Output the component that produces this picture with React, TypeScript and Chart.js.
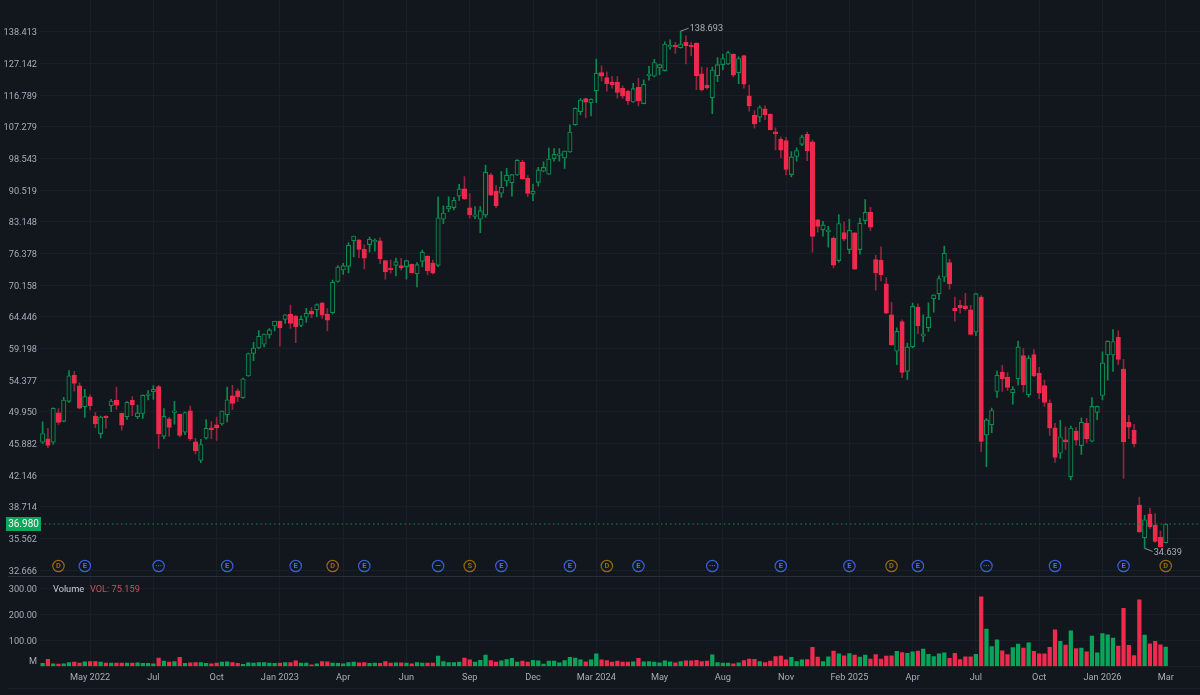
import { useEffect, useRef } from 'react'
import { Chart, registerables } from 'chart.js'

Chart.register(...registerables)

const opens = [
  46.05,46.48,46.05,49.82,48.71,51.39,55.12,53.58,50.65,52.0,
  49.39,47.13,49.35,50.79,51.53,49.78,49.3,51.53,49.3,49.74,
  52.2,52.75,53.45,46.78,49.05,49.88,49.65,47.3,50.1,46.1,
  43.85,46.57,47.85,48.24,48.37,49.56,52.14,52.85,51.9,55.0,
  58.42,59.31,59.9,61.41,62.9,63.73,64.0,64.93,64.58,63.0,
  64.39,65.47,65.71,66.91,64.93,65.17,70.88,73.1,73.82,79.04,
  79.26,77.24,78.25,78.83,79.04,74.94,73.43,74.02,73.95,73.76,
  74.22,72.38,74.81,75.85,74.48,74.02,83.77,86.1,86.41,89.12,
  90.86,86.33,84.4,83.77,84.7,94.32,90.3,89.82,92.8,92.38,
  94.3,97.6,93.56,89.59,92.46,95.25,94.49,98.54,99.4,98.7,
  100.3,107.93,111.78,115.79,114.49,118.2,124.1,122.46,120.9,121,
  119,118,114.7,119.3,114.2,123.1,122.9,125.7,124.8,133,
  133.4,132.7,134.6,133.5,134.3,123.7,119.95,116,123.1,126.8,
  127,130.4,124.1,129.9,116.6,110.65,110.15,112.63,111.05,105.9,
  103.82,103.4,94.4,99.1,102.4,105.2,103.05,83.61,81.4,81.0,
  79.62,74.97,80.8,77.2,80.75,77.2,83.45,85.3,75.18,75.04,
  70.45,64.8,58.78,63.63,55.7,59.47,66.17,61.2,62.6,67.66,
  68.6,71.7,74.57,65.94,66.5,66.4,65.7,61.9,67.95,46.94,
  48.26,52.76,55.57,54.84,52.58,54.58,58.1,52.3,58.25,55.4,
  53.6,51.15,47.87,44.72,46.34,41.97,47.41,45.64,48.43,46.18,
  49.9,52.2,58.2,58.2,61,56.03,48.6,47.58,38.9,35.63,37.96,36.84,35.69,35.17,
]
const highs = [
  48.63,47.81,50.5,50.4,51.95,55.8,55.69,54.0,53.07,52.28,
  49.9,49.39,49.48,51.67,53.4,49.8,51.35,52.05,50.88,52.28,
  52.9,53.6,53.65,50.4,49.22,51.4,49.65,49.95,50.75,46.53,
  46.4,48.92,48.66,49.26,50.1,53.4,53.65,53.15,54.7,58.5,
  60.2,62.13,61.6,62.45,63.75,63.75,64.87,66.55,64.75,64.63,
  65.95,66.07,66.73,66.95,65.89,71.14,73.95,74.4,78.68,80.05,
  79.3,78.18,79.83,79.47,79.69,75,75.07,75.46,75.4,75.07,
  74.25,74.55,77.1,75.9,75.07,88.97,86.8,88.97,88.8,91.96,
  93.9,89.74,86.64,86.64,96.86,94.7,91.7,95.17,96.0,94.5,
  98.3,98.1,94.15,92.04,96.26,97.7,101.4,101.2,101.2,100.6,
  107.9,112.9,115.8,115.9,115.65,128.7,126.4,124.4,122.8,122.8,
  119.8,118.4,120.6,122.2,121.7,126.2,128.6,127.0,134.8,135.5,
  134.6,138.693,137,134.6,134.4,126,125.8,126,129.2,130.4,
  131.5,130.5,129.5,130,120,112.1,113.5,113.5,111.1,107,
  104.4,104.3,100.45,101.45,105,105.8,103.6,83.76,83.3,82.16,
  79.9,84.8,83.2,83.8,80.8,84.04,88.3,86.5,76.05,77.8,
  71.63,67.0,62.6,63.96,60.1,66.9,66.77,64.8,66.95,68.4,
  71.96,77.95,75.2,67.96,67.36,68.67,66.5,68.67,68.25,49.06,
  50.46,55.72,56.6,55.5,53.45,60.4,59.2,58.1,59.05,56.3,
  54.4,51.6,48.43,48.85,48,48.1,47.9,49.15,49.1,51.9,
  50.75,58.68,60.45,62.3,62.08,57.5,49.46,48.3,39.75,37.86,38.6,38.02,36.28,37.0,
]
const lows = [
  45.88,45.37,45.8,48.3,48.62,51.25,52.8,50.36,49.22,50.23,
  47.85,46.6,47.81,50.0,50.3,47.55,48.96,49.44,49.05,49.1,
  51.58,51.67,45.3,46.5,46.8,48.33,46.7,47.0,46.27,44.63,
  43.6,46.44,46.48,46.27,48.2,48.62,50.3,51.35,51.8,54.95,
  57.3,59.15,59.47,60.86,62.07,59.59,63.34,62.51,60.14,62.79,
  63.5,64.33,64.45,64.17,62.07,64.99,70.75,72.25,72.5,75.72,
  75.53,73.3,76.67,76.88,74.35,71.34,72.45,71.93,73.1,71.34,
  72.5,69.86,73.69,72.12,72.32,73.76,82.79,85.5,85.86,88.11,
  88.35,84.0,83.9,80.8,84.16,89.3,86.41,88.8,91.53,89.12,
  94.2,93.2,88.97,88.03,91.53,95.08,94.4,97.86,97.86,96.0,
  100.2,107.8,110.78,109.98,110.48,114.5,121.4,118.1,119,115.9,
  115.8,114,114.6,113.5,114.1,121.6,122.7,123.4,124.6,132.2,
  130.7,132.5,127,129.9,118.6,118.1,118.75,111.14,121.1,125,
  126.8,122.7,120.5,119,111.9,106.9,108.75,109.36,106.4,100.9,
  98.7,94.3,93.8,97.9,102,98,76.66,80.9,80.04,77.7,
  73.5,74.64,79,76.38,73.2,76.24,82.7,81.2,69.25,70.96,
  65,59.7,56.71,54.74,54.5,59.3,61.6,60.3,62,65.28,
  67.48,70.83,69.44,63.7,65.1,65.6,61.4,61.3,44.9,43.13,
  47.24,51.93,52.76,52.9,51,53.68,52.7,51.98,54.9,51.75,
  50.7,46.9,43.63,44.1,45.16,41.61,45.7,44.56,45.96,46.1,
  48.94,51.6,54.38,55.67,56.7,41.79,46.48,45.48,36.15,34.639,36.54,35.2,34.77,35.14,
]
const closes = [
  47.13,45.67,50.46,48.58,51.58,55.03,53.91,50.46,52.05,50.79,
  48.37,49.27,49.18,51.44,50.88,48.2,51.25,50.93,49.82,52.23,
  52.3,53.07,47.08,49.35,47.93,49.93,46.91,49.86,46.48,44.98,
  45.76,47.81,47.64,47.89,50.08,51.6,51.1,52.05,54.6,58.42,
  59.3,61.19,61.57,62.24,63.73,62.57,64.81,63.34,62.79,64.06,
  65.11,64.93,66.61,64.75,63.89,70.75,73.69,73.95,78.1,80.05,
  77.24,75.46,79.4,79.04,75.33,72.71,73.17,74.74,73.56,74.94,
  72.58,74.15,76.67,72.97,72.45,84.08,85.17,86.72,88.11,90.86,
  88.42,84.78,84.47,85.7,95.0,89.35,86.87,91.28,94.24,94.4,
  98.1,93.3,89.74,90.27,95.6,96.26,98.45,99.65,99.5,100.57,
  105.82,112.77,115.29,114.69,115.59,123.9,122.9,120.5,120.2,117.66,
  116.5,115,118.9,115,120.3,123.4,127.5,126.8,134,133.5,
  133,134,133.4,133.1,123.1,118.6,119.2,124.96,126.8,128.9,
  131,123.3,128.9,120.3,113.5,108.17,113,110.85,106.45,105.3,
  100.8,95.7,99,100.7,104.46,100.6,79.97,82.16,82.5,81.2,
  74.04,82.79,79.4,81.3,73.24,82.87,85.37,82,72.5,72.2,
  65.1,59.8,62,55.52,59.47,66.29,62.9,61.6,64.4,68.37,
  71.43,76.45,70.42,65.5,66.05,65.87,61.5,68.6,46.14,48.89,
  50.14,55.1,54.58,53.36,53.08,59.47,53.7,57.74,55,52.53,
  51.24,47.83,44.2,46.73,46.09,47.83,46.3,48.6,46.5,50.69,
  50.7,56.97,60.4,60.33,57.5,46.09,47.96,45.84,36.2,37.4,36.71,35.3,34.81,36.98,
]
const volumes = [
  12,28,10,9,10,15,17,13,18,19,
  19,17,13,13,13,13,13,13,14,12,
  12,10,32,21,17,19,35,12,14,15,
  15,12,10,13,17,18,15,12,8,14,
  13,15,15,13,12,13,15,15,22,13,
  13,6,10,19,18,13,12,10,15,17,
  14,15,12,13,12,19,13,14,14,13,
  10,15,13,13,13,40,19,15,15,17,
  32,26,17,24,44,23,17,22,27,31,
  17,21,17,24,22,9,21,21,14,23,
  35,32,26,18,26,49,26,23,17,21,
  17,17,18,31,18,19,17,14,22,18,
  14,19,22,22,24,19,21,45,15,13,
  13,10,14,23,29,28,19,15,21,38,
  40,26,35,19,26,27,74,36,19,37,
  59,49,41,50,44,36,44,29,46,29,
  40,41,58,54,51,56,59,67,47,38,
  49,53,31,51,27,37,37,47,268,144,
  77,103,60,46,73,86,71,91,58,49,
  49,74,141,97,82,137,69,71,56,117,
  53,127,122,109,79,224,81,42,256,121,87,97,83,75.159,
]

const priceTicks = [138.413,127.142,116.789,107.279,98.543,90.519,83.148,76.378,70.158,64.446,59.198,54.377,49.95,45.882,42.146,38.714,35.562,32.666]
const volumeTicks = [0, 100, 200, 300]
const monthLabels = ['May 2022','Jul','Oct','Jan 2023','Apr','Jun','Sep','Dec','Mar 2024','May','Aug','Nov','Feb 2025','Apr','Jul','Oct','Jan 2026','Mar']

// weekly candle index + marker letter of the dividend/earnings badges
const eventBars = [3,8,22,35,48,55,61,75,81,87,100,107,113,127,140,153,161,166,179,192,205,213]
const eventKinds = ['D','E','···','E','E','D','E','—','S','E','E','D','E','···','E','E','D','E','···','E','E','D']

const lastPrice = 36.98
const lastVolume = 75.159
const highBar = 121
const highPrice = 138.693
const lowBar = 209
const lowPrice = 34.639

const BG = '#12161d'
const GRID = '#1a1e26'
const AXIS_TEXT = '#a6acba'
const UP = '#0aa35a'
const UP_LINE = '#0b8c50'
const UP_FILL = '#11191c'
const UP_WICK = '#0a8a4e'
const DOWN = '#ee2a4d'
const DOWN_WICK = '#962440'
const FONT = 'Roboto, sans-serif'
const FONT_SIZE = 9.2
const AXIS_WIDTH = 40

// 220 slots: the 214 weeks plus the empty space right of the last candle
const slots = Array.from({ length: 220 }, (_, i) => String(i))
const isUp = closes.map((c, i) => c >= opens[i])

// ── Plugin: everything TradingView draws on top of the panes ──────────────
const overlayPlugin = {
  id: 'overlay',
  afterDatasetsDraw(chart: any) {
    const { ctx: c, scales, chartArea, width } = chart
    const x = scales.x
    const y = scales.y
    const vol = scales.vol
    c.save()

    // pane divider + bottom rule
    c.fillStyle = '#2a2e38'
    c.fillRect(8, Math.round(y.bottom), width - 8, 1)
    c.fillStyle = '#1c2028'
    c.fillRect(8, 688, width - 8, 1)

    // last price line
    const lastY = y.getPixelForValue(lastPrice)
    c.strokeStyle = UP_LINE
    c.lineWidth = 1
    c.setLineDash([1.5, 3])
    c.beginPath()
    c.moveTo(chartArea.left, lastY)
    c.lineTo(width, lastY)
    c.stroke()
    c.setLineDash([])

    // last price tag
    c.fillStyle = '#0aa85c'
    c.fillRect(6, lastY - 7, 35, 14)
    c.fillStyle = '#f4f6f8'
    c.font = `10px ${FONT}`
    c.textAlign = 'center'
    c.textBaseline = 'middle'
    c.fillText(lastPrice.toFixed(3), 23.5, lastY + 0.5)

    // high / low callouts
    c.strokeStyle = '#8b909c'
    c.fillStyle = '#a9aeba'
    c.font = `${FONT_SIZE}px ${FONT}`
    c.textAlign = 'left'
    const hx = x.getPixelForValue(highBar)
    const hy = y.getPixelForValue(highPrice)
    c.beginPath()
    c.moveTo(hx, hy)
    c.lineTo(hx + 8, hy - 3)
    c.stroke()
    c.fillText(highPrice.toFixed(3), hx + 9, hy - 3)
    const lx = x.getPixelForValue(lowBar)
    const ly = y.getPixelForValue(lowPrice)
    c.beginPath()
    c.moveTo(lx, ly)
    c.lineTo(lx + 8, ly + 3)
    c.stroke()
    c.fillText(lowPrice.toFixed(3), lx + 9, ly + 4)

    // event badges
    eventBars.forEach((bar, i) => {
      const kind = eventKinds[i]
      const bx = x.getPixelForValue(bar)
      const by = 566
      const orange = kind === 'D' || kind === 'S'
      c.strokeStyle = orange ? '#96690f' : '#3560d8'
      c.fillStyle = orange ? '#96690f' : '#4a72dc'
      c.lineWidth = 1.2
      c.beginPath()
      c.arc(bx, by, 5.7, 0, Math.PI * 2)
      c.stroke()
      c.font = `bold 7.5px ${FONT}`
      c.textAlign = 'center'
      c.fillText(kind, bx, by + 0.5)
    })

    // volume pane legend and unit
    c.font = `${FONT_SIZE}px ${FONT}`
    c.textAlign = 'left'
    c.fillStyle = '#c9cdd6'
    c.fillText('Volume', 53, 589.5)
    c.fillStyle = '#c9525e'
    c.fillText(`VOL: ${lastVolume.toFixed(3)}`, 90, 589.5)
    c.fillStyle = AXIS_TEXT
    c.textAlign = 'right'
    c.fillText('M', 37, vol.getPixelForValue(0) - 4.5)

    c.restore()
  },
}

// scales reserve room for half a tick label; the panes here run edge to edge
const fitLeftAxis = (axis: any) => {
  axis.width = AXIS_WIDTH
  axis.paddingTop = 0
  axis.paddingBottom = 0
}

export default function App() {
  const canvasRef = useRef<HTMLCanvasElement>(null)

  useEffect(() => {
    if (!canvasRef.current) return

    const chart = new Chart(canvasRef.current, {
      type: 'bar',
      plugins: [overlayPlugin],
      data: {
        labels: slots,
        datasets: [
          {
            label: 'Body',
            data: opens.map((o, i) => [o, closes[i]]),
            yAxisID: 'y',
            grouped: false,
            order: 1,
            barThickness: 4.4,
            minBarLength: 1.5,
            borderWidth: 1.1,
            borderSkipped: false,
            backgroundColor: isUp.map(u => (u ? UP_FILL : DOWN)),
            borderColor: isUp.map(u => (u ? UP_LINE : DOWN)),
          },
          {
            label: 'Wick',
            data: lows.map((l, i) => [l, highs[i]]),
            yAxisID: 'y',
            grouped: false,
            order: 2,
            barThickness: 1,
            backgroundColor: isUp.map(u => (u ? UP_WICK : DOWN_WICK)),
          },
          {
            label: 'Volume',
            data: volumes,
            yAxisID: 'vol',
            grouped: false,
            order: 3,
            barThickness: 3.6,
            backgroundColor: isUp.map(u => (u ? UP : DOWN)),
          },
        ] as any,
      },
      options: {
        responsive: true,
        maintainAspectRatio: false,
        animation: false,
        layout: { padding: 0, autoPadding: false },
        plugins: { legend: { display: false }, tooltip: { enabled: false } },
        scales: {
          x: {
            offset: true,
            grid: { color: GRID, offset: false, drawTicks: false },
            border: { display: false },
            afterBuildTicks: (axis: any) => {
              axis.ticks = monthLabels.map((_, k) => ({ value: 9 + 12 * k }))
            },
            afterFit: (axis: any) => {
              axis.height = 28.5
              axis.paddingLeft = 0
              axis.paddingRight = 0
            },
            ticks: {
              autoSkip: false,
              maxRotation: 0,
              padding: 6,
              color: AXIS_TEXT,
              font: { size: FONT_SIZE, family: FONT },
              callback: (_: any, i: number) => monthLabels[i],
            },
          },
          y: {
            type: 'logarithmic',
            position: 'left',
            stack: 'panes',
            stackWeight: 575.5,
            weight: 1,
            min: 32.21,
            max: 150.8,
            grid: { color: GRID, drawTicks: false },
            border: { display: false },
            afterBuildTicks: (axis: any) => {
              axis.ticks = priceTicks.map(value => ({ value }))
            },
            afterFit: fitLeftAxis,
            ticks: {
              autoSkip: false,
              padding: 3,
              labelOffset: 1,
              color: AXIS_TEXT,
              font: { size: FONT_SIZE, family: FONT },
              callback: (v: any) => Number(v).toFixed(3),
            },
          },
          vol: {
            type: 'linear',
            position: 'left',
            stack: 'panes',
            stackWeight: 91,
            weight: 0,
            min: 0,
            max: 350,
            grid: { color: GRID, drawTicks: false },
            border: { display: false },
            afterBuildTicks: (axis: any) => {
              axis.ticks = volumeTicks.map(value => ({ value }))
            },
            afterFit: fitLeftAxis,
            ticks: {
              autoSkip: false,
              padding: 3,
              labelOffset: 1,
              color: AXIS_TEXT,
              font: { size: FONT_SIZE, family: FONT },
              callback: (v: any) => (Number(v) === 0 ? '' : Number(v).toFixed(2)),
            },
          },
        },
      },
    } as any)

    return () => { chart.destroy() }
  }, [])

  return (
    <div style={{ position: 'fixed', left: 0, top: 0, width: 1200, height: 695, background: BG }}>
      <canvas ref={canvasRef} role="img" aria-label="Weekly candlestick chart with volume" />
    </div>
  )
}
